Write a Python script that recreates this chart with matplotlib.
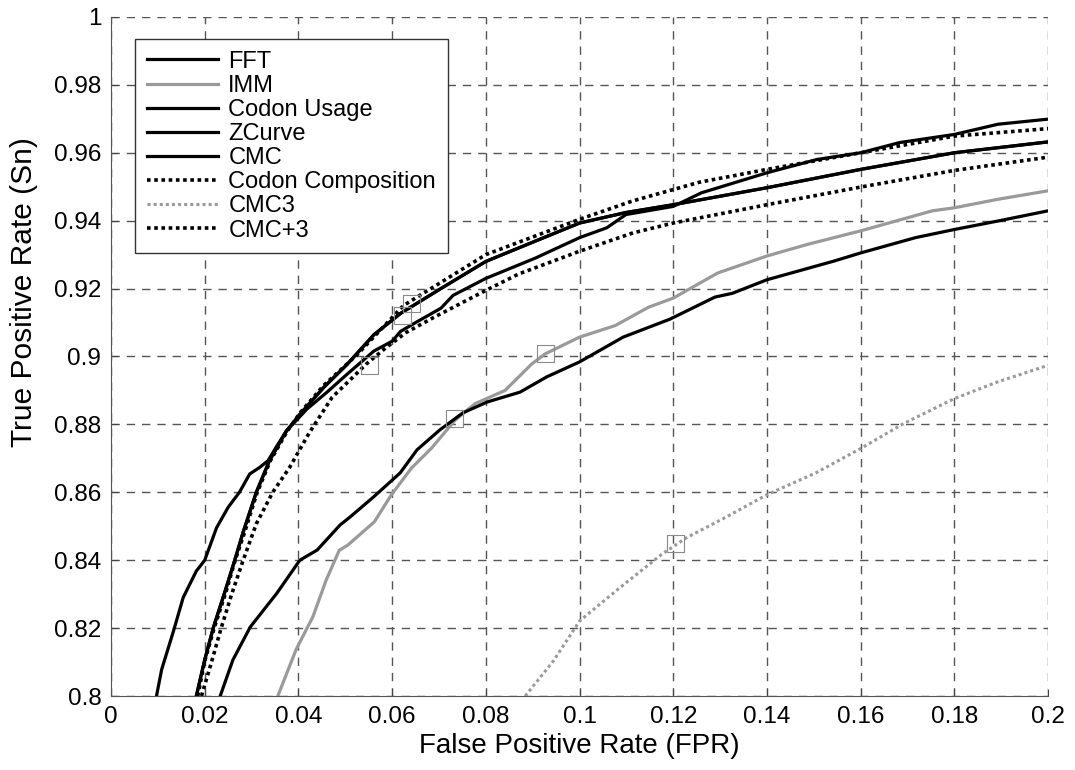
import numpy as np
import matplotlib
matplotlib.use("Agg")
import matplotlib.pyplot as plt

plt.rcParams['font.family'] = ['Liberation Sans', 'DejaVu Sans']

# curves (FPR, TPR)
fft_fpr = [0.0097, 0.0108, 0.0133, 0.0154, 0.0182, 0.0200, 0.0225, 0.0250, 0.0274, 0.0296,
           0.0317, 0.0335, 0.0352, 0.0374, 0.0418, 0.0461, 0.0504, 0.0561, 0.0600, 0.0618,
           0.0654, 0.0704, 0.0730, 0.0800, 0.0906, 0.1000, 0.1058, 0.1099, 0.1200, 0.1260,
           0.1400, 0.1506, 0.1600, 0.1683, 0.1800, 0.1893, 0.2000]
fft_tpr = [0.800, 0.8078, 0.819, 0.829, 0.8368, 0.840, 0.8495, 0.8556, 0.860, 0.8654,
           0.8673, 0.8693, 0.8732, 0.878, 0.8845, 0.8895, 0.8948, 0.9016, 0.9045, 0.9074,
           0.9103, 0.9142, 0.918, 0.923, 0.929, 0.935, 0.9379, 0.9418, 0.9442, 0.9482,
           0.9541, 0.958, 0.960, 0.963, 0.9654, 0.9684, 0.9699]

imm_fpr = [0.0356, 0.0395, 0.0431, 0.0459, 0.0487, 0.0505, 0.0562, 0.0598, 0.0641, 0.0684,
           0.0734, 0.0777, 0.0841, 0.0898, 0.0927, 0.1000, 0.1076, 0.1147, 0.1200, 0.1295,
           0.1400, 0.1486, 0.1600, 0.1753, 0.1800, 0.1893, 0.2000]
imm_tpr = [0.800, 0.8137, 0.8234, 0.8341, 0.8429, 0.8444, 0.8513, 0.8592, 0.8671, 0.873,
           0.8812, 0.8861, 0.890, 0.8978, 0.9008, 0.9057, 0.9091, 0.9145, 0.9172, 0.9246,
           0.9296, 0.933, 0.937, 0.9429, 0.9438, 0.9463, 0.9488]

cu_fpr = [0.0182, 0.0200, 0.0218, 0.0243, 0.0264, 0.0282, 0.0310, 0.0338, 0.0374, 0.0404,
          0.0454, 0.0504, 0.0561, 0.0618, 0.0704, 0.0800, 0.0906, 0.1000, 0.1099, 0.1200,
          0.1400, 0.1600, 0.1800, 0.2000]
cu_tpr = [0.800, 0.8107, 0.820, 0.8307, 0.840, 0.8483, 0.860, 0.8693, 0.878, 0.8831,
          0.8909, 0.8977, 0.9064, 0.9127, 0.920, 0.928, 0.934, 0.9393, 0.9424, 0.9447,
          0.9497, 0.9551, 0.960, 0.9632]

zc_fpr = [0.0233, 0.0260, 0.0297, 0.0354, 0.0403, 0.0440, 0.0489, 0.0510, 0.0560, 0.0617,
          0.0653, 0.0702, 0.0751, 0.0803, 0.0873, 0.0930, 0.1000, 0.1093, 0.1193, 0.1289,
          0.1326, 0.1400, 0.1543, 0.1600, 0.1717, 0.1800, 0.1893, 0.2000]
zc_tpr = [0.800, 0.8106, 0.8203, 0.8303, 0.840, 0.843, 0.8504, 0.8527, 0.8586, 0.8657,
          0.8725, 0.8784, 0.8834, 0.8866, 0.8895, 0.894, 0.8984, 0.9057, 0.911, 0.9175,
          0.9186, 0.9226, 0.9281, 0.9305, 0.935, 0.9374, 0.9399, 0.9429]

# CMC lies under the Codon Usage curve
cmc_fpr = cu_fpr
cmc_tpr = cu_tpr

cc_fpr = [0.0185, 0.0200, 0.0220, 0.0245, 0.0265, 0.0285, 0.0312, 0.0340, 0.0376, 0.0404,
          0.0454, 0.0525, 0.0624, 0.0800, 0.1000, 0.1113, 0.1255, 0.1400, 0.1600, 0.1800, 0.2000]
cc_tpr = [0.800, 0.8103, 0.820, 0.8305, 0.840, 0.8482, 0.860, 0.8693, 0.878, 0.8835,
          0.8915, 0.9005, 0.915, 0.930, 0.9404, 0.9458, 0.9513, 0.9551, 0.960, 0.9649, 0.9671]

cmc3_fpr = [0.0884, 0.0944, 0.1000, 0.1086, 0.1175, 0.1228, 0.1310, 0.1400, 0.1504, 0.1600,
            0.1691, 0.1800, 0.1892, 0.2000]
cmc3_tpr = [0.800, 0.8103, 0.8221, 0.8319, 0.8417, 0.8466, 0.8525, 0.8593, 0.8657, 0.8729,
            0.8802, 0.8876, 0.8925, 0.8974]

cmcp3_fpr = [0.0193, 0.0214, 0.0235, 0.0257, 0.0282, 0.0310, 0.0345, 0.0381, 0.0423, 0.0472,
             0.0508, 0.0544, 0.0586, 0.0629, 0.0686, 0.0799, 0.0870, 0.1000, 0.1114, 0.1200,
             0.1400, 0.1600, 0.1800, 0.2000]
cmcp3_tpr = [0.800, 0.8098, 0.820, 0.8298, 0.840, 0.8507, 0.860, 0.8673, 0.8775, 0.888,
             0.8928, 0.8977, 0.9025, 0.907, 0.9113, 0.9194, 0.9243, 0.931, 0.9364, 0.9393,
             0.9447, 0.9499, 0.9548, 0.9587]

# operating points marked with small squares
sq_fpr = [0.0551, 0.0623, 0.0641, 0.0734, 0.0927, 0.1204]
sq_tpr = [0.8974, 0.9122, 0.9156, 0.8817, 0.9008, 0.8449]

fig = plt.figure(figsize=(10.75, 7.7), dpi=100)
ax = fig.add_axes([0.1033, 0.0961, 0.8717, 0.8819])

dot = (0, (1, 1))
ax.plot(fft_fpr, fft_tpr, color='black', lw=2.3, label='FFT')
ax.plot(imm_fpr, imm_tpr, color='#9a9a9a', lw=2.3, label='IMM')
ax.plot(cu_fpr, cu_tpr, color='black', lw=2.3, label='Codon Usage')
ax.plot(zc_fpr, zc_tpr, color='black', lw=2.3, label='ZCurve')
ax.plot(cmc_fpr, cmc_tpr, color='black', lw=2.3, label='CMC')
ax.plot(cc_fpr, cc_tpr, color='black', lw=2.6, linestyle=dot, label='Codon Composition')
ax.plot(cmc3_fpr, cmc3_tpr, color='#9a9a9a', lw=2.2, linestyle=dot, label='CMC3')
ax.plot(cmcp3_fpr, cmcp3_tpr, color='black', lw=2.6, linestyle=dot, label='CMC+3')
ax.scatter(sq_fpr, sq_tpr, marker='s', s=150, facecolors='none', edgecolors='#8a8a8a',
           linewidths=0.8, zorder=3)

ax.set_xlim(0, 0.2)
ax.set_ylim(0.8, 1.0)
ax.set_xticks(np.arange(0, 0.201, 0.02))
ax.set_yticks(np.arange(0.8, 1.001, 0.02))
ax.set_xticklabels(['0', '0.02', '0.04', '0.06', '0.08', '0.1', '0.12', '0.14', '0.16', '0.18', '0.2'])
ax.set_yticklabels(['0.8', '0.82', '0.84', '0.86', '0.88', '0.9', '0.92', '0.94', '0.96', '0.98', '1'])
ax.tick_params(direction='in', length=5, labelsize=17.5, pad=7, color='#444444')
ax.grid(True, linestyle=(0, (6, 5)), color='#555555', lw=1.0)

ax.spines['top'].set_visible(False)
ax.spines['right'].set_visible(False)
ax.spines['left'].set_color('#555555')
ax.spines['bottom'].set_color('#555555')

ax.set_xlabel('False Positive Rate (FPR)', fontsize=20, labelpad=4)
ax.set_ylabel('True Positive Rate (Sn)', fontsize=21.5)
ax.yaxis.set_label_coords(-0.078, 0.595)

leg = ax.legend(loc='upper left', bbox_to_anchor=(0.0256, 0.9676), borderaxespad=0,
                fontsize=17, handlelength=3.0, handletextpad=0.45, labelspacing=0.09,
                borderpad=0.5, fancybox=False, framealpha=1)
leg.get_frame().set_edgecolor('#333333')
leg.get_frame().set_linewidth(1.0)

fig.savefig('out.png', dpi=100)
